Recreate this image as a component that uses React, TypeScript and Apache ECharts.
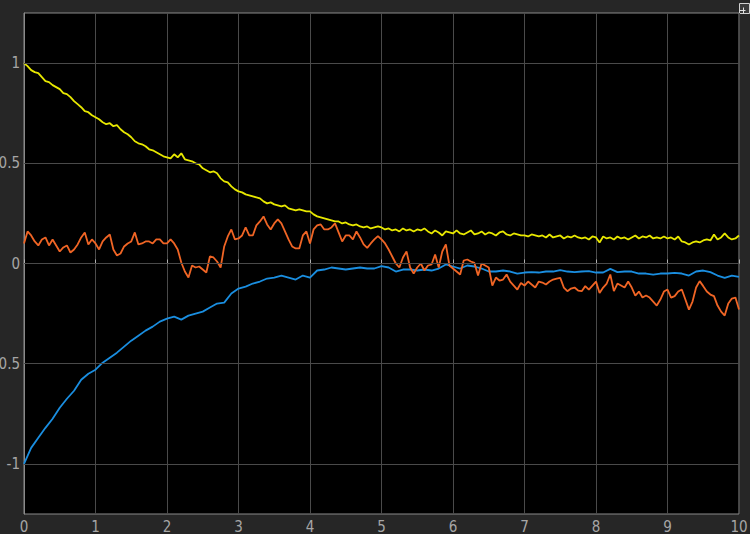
import React, { useEffect, useRef } from "react";
import * as echarts from "echarts";

// sample step (seconds) for each signal
const yellowStep = 0.05;
const orangeStep = 0.05;
const blueStep = 0.1;

const yellowValues = [
  1.0, 0.985, 0.965, 0.955, 0.95, 0.93, 0.91, 0.905, 0.89, 0.88,
  0.87, 0.85, 0.845, 0.83, 0.81, 0.795, 0.78, 0.76, 0.755, 0.74,
  0.73, 0.72, 0.705, 0.695, 0.7, 0.685, 0.69, 0.67, 0.655, 0.645,
  0.63, 0.61, 0.6, 0.595, 0.585, 0.57, 0.565, 0.555, 0.545, 0.535,
  0.53, 0.525, 0.545, 0.53, 0.55, 0.52, 0.515, 0.51, 0.5, 0.495,
  0.475, 0.465, 0.455, 0.46, 0.45, 0.425, 0.41, 0.405, 0.385, 0.37,
  0.36, 0.355, 0.345, 0.34, 0.335, 0.33, 0.325, 0.31, 0.3, 0.305,
  0.295, 0.29, 0.285, 0.29, 0.275, 0.27, 0.265, 0.27, 0.265, 0.26,
  0.26, 0.245, 0.235, 0.23, 0.225, 0.22, 0.215, 0.21, 0.21, 0.2,
  0.205, 0.195, 0.19, 0.195, 0.185, 0.18, 0.185, 0.175, 0.18, 0.185,
  0.18, 0.17, 0.175, 0.165, 0.17, 0.16, 0.175, 0.165, 0.17, 0.16,
  0.17, 0.165, 0.175, 0.16, 0.15, 0.165, 0.155, 0.14, 0.16, 0.155,
  0.15, 0.165, 0.15, 0.145, 0.155, 0.165, 0.145, 0.15, 0.16, 0.145,
  0.155, 0.15, 0.14, 0.155, 0.16, 0.145, 0.14, 0.15, 0.145, 0.14,
  0.14, 0.135, 0.145, 0.14, 0.135, 0.14, 0.13, 0.145, 0.13, 0.135,
  0.14, 0.125, 0.135, 0.13, 0.14, 0.13, 0.125, 0.13, 0.12, 0.135,
  0.13, 0.105, 0.135, 0.125, 0.13, 0.12, 0.135, 0.125, 0.13, 0.12,
  0.13, 0.14, 0.125, 0.135, 0.13, 0.14, 0.125, 0.13, 0.125, 0.135,
  0.125, 0.13, 0.12, 0.135, 0.11, 0.105, 0.095, 0.105, 0.11, 0.105,
  0.115, 0.12, 0.115, 0.145, 0.12, 0.13, 0.15, 0.13, 0.12, 0.125,
  0.14,
];

const orangeValues = [
  0.1, 0.16, 0.14, 0.11, 0.09, 0.12, 0.13, 0.09, 0.12, 0.09,
  0.06, 0.08, 0.09, 0.055, 0.07, 0.095, 0.13, 0.155, 0.095, 0.12,
  0.1, 0.07, 0.11, 0.13, 0.145, 0.07, 0.04, 0.05, 0.085, 0.1,
  0.11, 0.155, 0.095, 0.1, 0.11, 0.11, 0.1, 0.12, 0.12, 0.1,
  0.1, 0.12, 0.1, 0.07, 0.005, -0.04, -0.07, -0.01, -0.02, -0.015,
  -0.03, -0.045, 0.035, 0.03, 0.01, -0.02, 0.085, 0.135, 0.17, 0.12,
  0.125, 0.14, 0.18, 0.14, 0.14, 0.19, 0.21, 0.235, 0.195, 0.17,
  0.2, 0.22, 0.2, 0.16, 0.12, 0.085, 0.075, 0.075, 0.14, 0.16,
  0.1, 0.17, 0.19, 0.195, 0.17, 0.17, 0.18, 0.2, 0.155, 0.11,
  0.14, 0.14, 0.12, 0.16, 0.13, 0.095, 0.078, 0.1, 0.12, 0.137,
  0.12, 0.1, 0.07, 0.035, 0.0, -0.02, 0.03, 0.06, -0.02, -0.05,
  -0.02, 0.0, -0.035, -0.01, -0.005, 0.045, -0.02, 0.06, 0.095, -0.01,
  -0.025, -0.04, -0.055, 0.015, 0.02, 0.01, 0.003, -0.06, 0.0, -0.01,
  -0.02, -0.11, -0.07, -0.085, -0.08, -0.055, -0.09, -0.11, -0.13, -0.097,
  -0.11, -0.09, -0.105, -0.12, -0.09, -0.095, -0.105, -0.09, -0.08, -0.075,
  -0.072, -0.12, -0.138, -0.125, -0.12, -0.135, -0.138, -0.113, -0.13, -0.11,
  -0.09, -0.147, -0.12, -0.1, -0.055, -0.138, -0.1, -0.11, -0.12, -0.09,
  -0.12, -0.16, -0.14, -0.17, -0.16, -0.17, -0.19, -0.21, -0.18, -0.14,
  -0.13, -0.17, -0.163, -0.14, -0.13, -0.18, -0.23, -0.19, -0.12, -0.088,
  -0.113, -0.14, -0.155, -0.163, -0.21, -0.24, -0.26, -0.2, -0.175, -0.17,
  -0.23,
];

const blueValues = [
  -1.0, -0.92, -0.87, -0.82, -0.775, -0.72, -0.675, -0.635, -0.58, -0.55,
  -0.53, -0.495, -0.47, -0.445, -0.415, -0.385, -0.36, -0.335, -0.315, -0.29,
  -0.275, -0.265, -0.28, -0.26, -0.25, -0.24, -0.22, -0.2, -0.195, -0.15,
  -0.125, -0.115, -0.1, -0.09, -0.075, -0.07, -0.06, -0.07, -0.08, -0.06,
  -0.07, -0.035, -0.03, -0.02, -0.025, -0.03, -0.025, -0.02, -0.025, -0.025,
  -0.013, -0.02, -0.04, -0.03, -0.03, -0.035, -0.03, -0.035, -0.025, -0.005,
  -0.015, -0.025, -0.01, -0.015, -0.025, -0.04, -0.04, -0.035, -0.04, -0.05,
  -0.045, -0.043, -0.045, -0.04, -0.04, -0.033, -0.04, -0.043, -0.04, -0.038,
  -0.045, -0.045, -0.027, -0.043, -0.04, -0.04, -0.05, -0.05, -0.055, -0.05,
  -0.05, -0.047, -0.05, -0.06, -0.04, -0.035, -0.043, -0.06, -0.072, -0.06,
  -0.067,
];

const xTickLabels = ["0", "1", "2", "3", "4", "5", "6", "7", "8", "9", "10"];
const yTicks = [-1, -0.5, 0, 0.5, 1];

const toPairs = (vals: number[], step: number) =>
  vals.map((v, i) => [Math.round(i * step * 1000) / 1000, v]);

const FONT = "'Liberation Sans Narrow', 'DejaVu Sans Condensed', 'Liberation Sans', sans-serif";
const GRID_COLOR = "#4a4a4a";

export default function App() {
  const ref = useRef<HTMLDivElement>(null);
  useEffect(() => {
    if (!ref.current) return;
    const chart = echarts.init(ref.current, undefined, { renderer: "svg" });
    chart.setOption({
      animation: false,
      backgroundColor: "#262626",
      grid: {
        left: 24,
        right: 11,
        top: 13,
        bottom: 20,
        containLabel: false,
        outerBoundsMode: "none",
        show: true,
        backgroundColor: "#000000",
        borderColor: "#8a8a8a",
        borderWidth: 1,
      },
      xAxis: {
        type: "value",
        min: 0,
        max: 10,
        interval: 1,
        axisLine: { show: true, lineStyle: { color: "#8a8a8a" } },
        axisTick: { show: true, inside: true, length: 4, lineStyle: { color: "#b0b0b0" } },
        splitLine: { show: true, lineStyle: { color: GRID_COLOR, width: 1 } },
        axisLabel: {
          color: "#a6a6a6",
          fontSize: 15,
          fontFamily: FONT,
          margin: 5,
          formatter: (v: number) => xTickLabels[Math.round(v)] ?? "",
        },
      },
      yAxis: {
        type: "value",
        min: -1.25,
        max: 1.25,
        interval: 0.25,
        axisLine: { show: true, lineStyle: { color: "#8a8a8a" } },
        axisTick: { show: false },
        splitLine: { show: false },
        axisLabel: {
          color: "#a6a6a6",
          fontSize: 15,
          fontFamily: FONT,
          margin: 4,
          showMinLabel: false,
          showMaxLabel: false,
          formatter: (v: number) => {
            const t = yTicks.find((y) => Math.abs(y - v) < 1e-6);
            return t === undefined ? "" : String(t);
          },
        },
      },
      series: [
        {
          type: "line",
          data: [],
          silent: true,
          markLine: {
            silent: true,
            symbol: "none",
            label: { show: false },
            lineStyle: { color: GRID_COLOR, type: "solid", width: 1 },
            data: yTicks.map((y) => ({ yAxis: y })),
          },
        },
        {
          type: "line",
          data: toPairs(yellowValues, yellowStep),
          showSymbol: false,
          lineStyle: { color: "#e8e800", width: 1.8 },
          itemStyle: { color: "#e8e800" },
        },
        {
          type: "line",
          data: toPairs(blueValues, blueStep),
          showSymbol: false,
          lineStyle: { color: "#1a8ee0", width: 1.8 },
          itemStyle: { color: "#1a8ee0" },
        },
        {
          type: "line",
          data: toPairs(orangeValues, orangeStep),
          showSymbol: false,
          lineStyle: { color: "#f06525", width: 1.8 },
          itemStyle: { color: "#f06525" },
        },
      ],
      graphic: [
        {
          type: "rect",
          right: 0,
          top: 3,
          shape: { width: 10, height: 10 },
          style: { fill: "#3a3a3a", stroke: "#d0d0d0", lineWidth: 1 },
        },
        {
          type: "line",
          right: 2,
          top: 8,
          shape: { x1: 0, y1: 0, x2: 6, y2: 0 },
          style: { stroke: "#e0e0e0", lineWidth: 1 },
        },
        {
          type: "line",
          right: 4,
          top: 5,
          shape: { x1: 0, y1: 0, x2: 0, y2: 6 },
          style: { stroke: "#e0e0e0", lineWidth: 1 },
        },
      ],
    });
    return () => chart.dispose();
  }, []);
  return (
    <div
      ref={ref}
      style={{ position: "absolute", left: 0, top: 0, width: 750, height: 534 }}
    />
  );
}
